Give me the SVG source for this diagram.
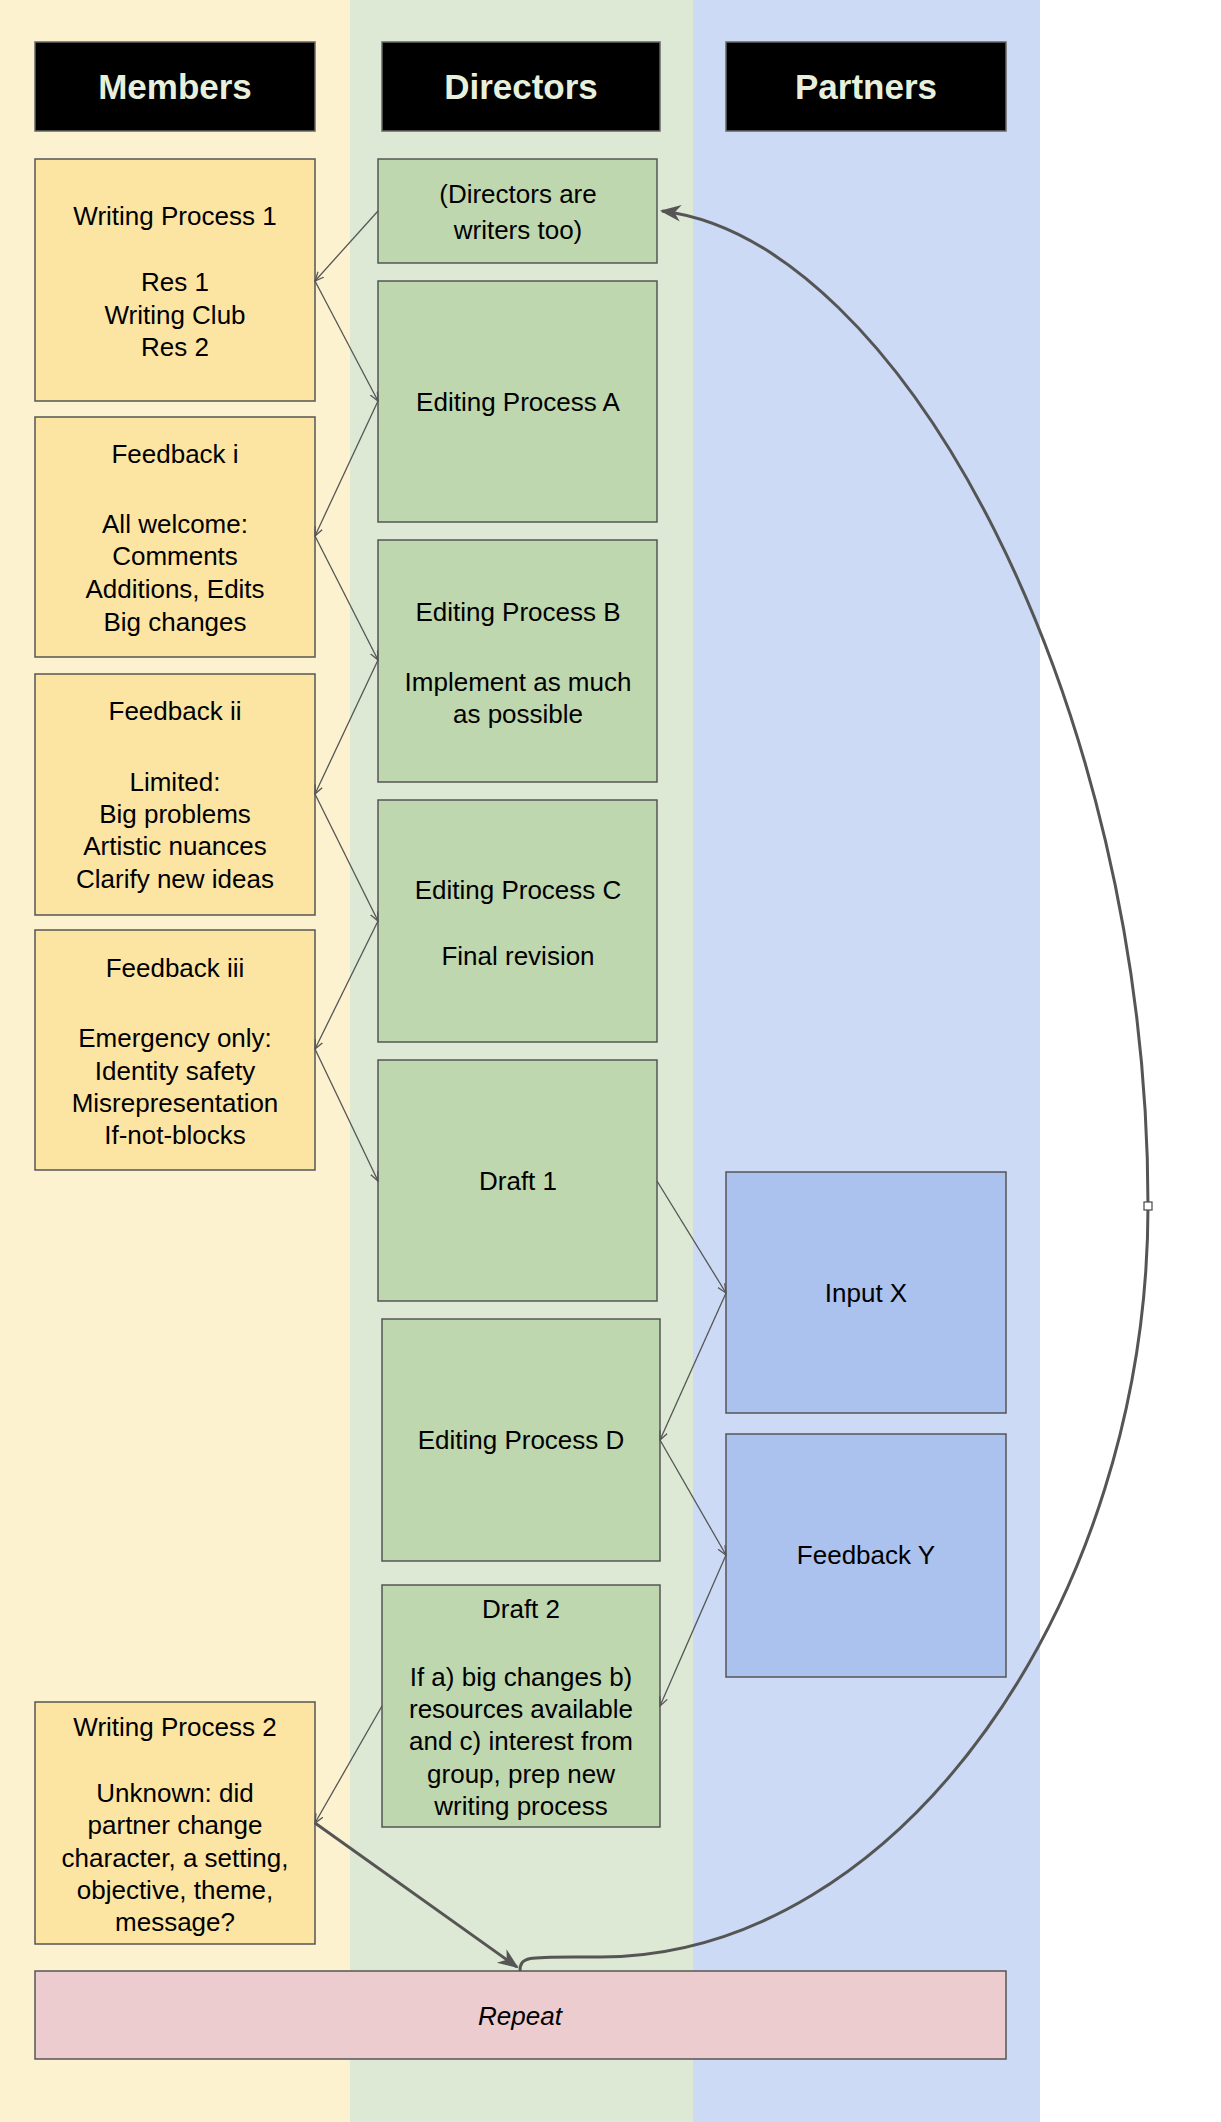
<svg xmlns="http://www.w3.org/2000/svg" width="1221" height="2122" viewBox="0 0 1221 2122">
<style>
text{font-family:"Liberation Sans",Arial,sans-serif;font-size:26px;fill:#000;text-anchor:middle;dominant-baseline:central}
.h rect{fill:#000;stroke:#666;stroke-width:1.5}
.h text{font-weight:bold;font-size:35px;fill:#e6f0dc}
.m rect{fill:#fce5a3;stroke:#555;stroke-width:1.5}
.d rect{fill:#bfd7ae;stroke:#555;stroke-width:1.5}
.p rect{fill:#abc1ee;stroke:#555;stroke-width:1.5}
.c{fill:none;stroke:#555;stroke-width:1.3}
.t{fill:none;stroke:#555;stroke-width:3}
</style>
<defs>
<marker id="a" viewBox="0 0 10 10" refX="9" refY="5" markerWidth="10" markerHeight="10" markerUnits="userSpaceOnUse" orient="auto"><path d="M0,1 L9,5 L0,9" fill="none" stroke="#555" stroke-width="1.3"/></marker>
<marker id="b" viewBox="0 0 10 10" refX="9" refY="5" markerWidth="7" markerHeight="7" orient="auto"><path d="M0,1 L10,5 L0,9 L3,5Z" fill="#555"/></marker>
</defs>
<rect x="0" y="0" width="350" height="2122" fill="#fdf2d0"/>
<rect x="350" y="0" width="343" height="2122" fill="#dde8d5"/>
<rect x="693" y="0" width="347" height="2122" fill="#ccdaf5"/>
<g id="hMembers" class="h"><rect x="35" y="42" width="280" height="89"/><text x="175" y="86">Members</text></g>
<g id="hDirectors" class="h"><rect x="382" y="42" width="278" height="89"/><text x="521" y="86">Directors</text></g>
<g id="hPartners" class="h"><rect x="726" y="42" width="280" height="89"/><text x="866" y="86">Partners</text></g>
<g id="wp1" class="m"><rect x="35" y="159" width="280" height="242"/><text x="175" y="216">Writing Process 1</text><text x="175" y="282">Res 1</text><text x="175" y="315">Writing Club</text><text x="175" y="347">Res 2</text></g>
<g id="fb1" class="m"><rect x="35" y="417" width="280" height="240"/><text x="175" y="454">Feedback i</text><text x="175" y="524">All welcome:</text><text x="175" y="556">Comments</text><text x="175" y="589">Additions, Edits</text><text x="175" y="622">Big changes</text></g>
<g id="fb2" class="m"><rect x="35" y="674" width="280" height="241"/><text x="175" y="711">Feedback ii</text><text x="175" y="782">Limited:</text><text x="175" y="814">Big problems</text><text x="175" y="846">Artistic nuances</text><text x="175" y="879">Clarify new ideas</text></g>
<g id="fb3" class="m"><rect x="35" y="930" width="280" height="240"/><text x="175" y="968">Feedback iii</text><text x="175" y="1038">Emergency only:</text><text x="175" y="1071">Identity safety</text><text x="175" y="1103">Misrepresentation</text><text x="175" y="1135">If-not-blocks</text></g>
<g id="wp2" class="m"><rect x="35" y="1702" width="280" height="242"/><text x="175" y="1727">Writing Process 2</text><text x="175" y="1793">Unknown: did</text><text x="175" y="1825">partner change</text><text x="175" y="1858">character, a setting,</text><text x="175" y="1890">objective, theme,</text><text x="175" y="1922">message?</text></g>
<g id="dnote" class="d"><rect x="378" y="159" width="279" height="104"/><text x="518" y="194">(Directors are</text><text x="518" y="230">writers too)</text></g>
<g id="epa" class="d"><rect x="378" y="281" width="279" height="241"/><text x="518" y="402">Editing Process A</text></g>
<g id="epb" class="d"><rect x="378" y="540" width="279" height="242"/><text x="518" y="612">Editing Process B</text><text x="518" y="682">Implement as much</text><text x="518" y="714">as possible</text></g>
<g id="epc" class="d"><rect x="378" y="800" width="279" height="242"/><text x="518" y="890">Editing Process C</text><text x="518" y="956">Final revision</text></g>
<g id="draft1" class="d"><rect x="378" y="1060" width="279" height="241"/><text x="518" y="1181">Draft 1</text></g>
<g id="epd" class="d"><rect x="382" y="1319" width="278" height="242"/><text x="521" y="1440">Editing Process D</text></g>
<g id="draft2" class="d"><rect x="382" y="1585" width="278" height="242"/><text x="521" y="1609">Draft 2</text><text x="521" y="1677">If a) big changes b)</text><text x="521" y="1709">resources available</text><text x="521" y="1741">and c) interest from</text><text x="521" y="1774">group, prep new</text><text x="521" y="1806">writing process</text></g>
<g id="inputx" class="p"><rect x="726" y="1172" width="280" height="241"/><text x="866" y="1293">Input X</text></g>
<g id="fby" class="p"><rect x="726" y="1434" width="280" height="243"/><text x="866" y="1555">Feedback Y</text></g>
<g id="repeat"><rect x="35" y="1971" width="971" height="88" fill="#ecccce" stroke="#555" stroke-width="1.5"/><text x="520" y="2016" font-style="italic">Repeat</text></g>
<g id="connectors">
<path class="c" marker-end="url(#a)" d="M378,211 L315,281"/>
<path class="c" marker-end="url(#a)" d="M315,281 L378,401"/>
<path class="c" marker-end="url(#a)" d="M378,401 L315,536"/>
<path class="c" marker-end="url(#a)" d="M315,536 L378,660"/>
<path class="c" marker-end="url(#a)" d="M378,660 L315,794"/>
<path class="c" marker-end="url(#a)" d="M315,794 L378,921"/>
<path class="c" marker-end="url(#a)" d="M378,921 L315,1049"/>
<path class="c" marker-end="url(#a)" d="M315,1049 L378,1181"/>
<path class="c" marker-end="url(#a)" d="M657,1181 L726,1293"/>
<path class="c" marker-end="url(#a)" d="M726,1293 L660,1440"/>
<path class="c" marker-end="url(#a)" d="M660,1440 L726,1555"/>
<path class="c" marker-end="url(#a)" d="M726,1555 L660,1706"/>
<path class="c" marker-end="url(#a)" d="M382,1706 L315,1823"/>
<path class="t" marker-end="url(#b)" d="M315,1823 L517,1967"/>
<path class="t" marker-end="url(#b)" d="M520,1971 C520,1955 530,1957 600,1957 C900,1957 1148,1600 1148,1206 C1148,700 900,240 662,211"/>
<rect x="1144" y="1202" width="8" height="8" fill="#fff" stroke="#555" stroke-width="1.3"/>
</g>
</svg>
